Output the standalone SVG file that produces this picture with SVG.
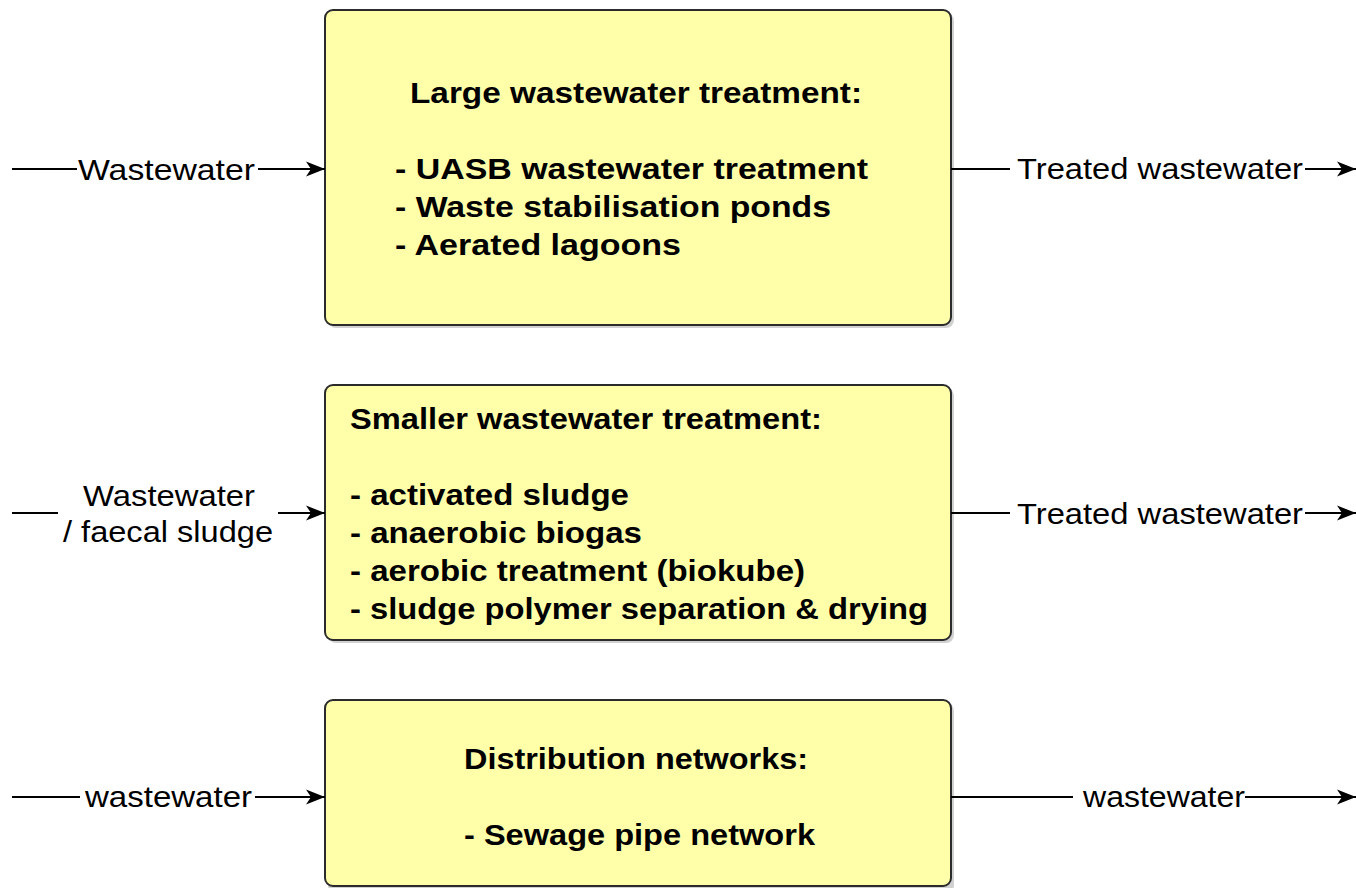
<svg xmlns="http://www.w3.org/2000/svg" width="1356" height="888" viewBox="0 0 1356 888">
  <style>
    .box { fill: #ffffaa; stroke: #2b2b2b; stroke-width: 2; }
    .shadow { fill: #000000; opacity: 0.18; }
    .title, .item { font-family: "Liberation Sans", Arial, sans-serif; font-size: 29px; font-weight: bold; fill: #000000; }
    .lbl { font-family: "Liberation Sans", Arial, sans-serif; font-size: 29px; fill: #000000; }
    .edge { stroke: #000000; stroke-width: 2; fill: none; }
  </style>
  <defs>
    <marker id="arrow" markerUnits="userSpaceOnUse" markerWidth="20" markerHeight="18" refX="19" refY="9" orient="auto">
      <path d="M0,1.5 L19,9 L0,16.5 L5,9 Z" fill="#000000"/>
    </marker>
  </defs>
  <rect width="1356" height="888" fill="#ffffff"/>

  <!-- Process boxes -->
  <g id="large-treatment">
    <rect class="shadow" x="328" y="13" width="626" height="315" rx="8"/>
    <rect class="box" x="325" y="10" width="626" height="315" rx="8"/>
    <text class="title" x="410" y="103" textLength="452" lengthAdjust="spacingAndGlyphs">Large wastewater treatment:</text>
    <text class="item" x="395" y="179" textLength="473" lengthAdjust="spacingAndGlyphs">- UASB wastewater treatment</text>
    <text class="item" x="395" y="217" textLength="436" lengthAdjust="spacingAndGlyphs">- Waste stabilisation ponds</text>
    <text class="item" x="395" y="255" textLength="286" lengthAdjust="spacingAndGlyphs">- Aerated lagoons</text>
  </g>

  <g id="small-treatment">
    <rect class="shadow" x="328" y="388" width="626" height="255" rx="8"/>
    <rect class="box" x="325" y="385" width="626" height="255" rx="8"/>
    <text class="title" x="350" y="429" textLength="472" lengthAdjust="spacingAndGlyphs">Smaller wastewater treatment:</text>
    <text class="item" x="350" y="505" textLength="279" lengthAdjust="spacingAndGlyphs">- activated sludge</text>
    <text class="item" x="350" y="543" textLength="292" lengthAdjust="spacingAndGlyphs">- anaerobic biogas</text>
    <text class="item" x="350" y="581" textLength="455" lengthAdjust="spacingAndGlyphs">- aerobic treatment (biokube)</text>
    <text class="item" x="350" y="619" textLength="578" lengthAdjust="spacingAndGlyphs">- sludge polymer separation &amp; drying</text>
  </g>

  <g id="distribution">
    <rect class="shadow" x="328" y="703" width="626" height="190" rx="8"/>
    <rect class="box" x="325" y="700" width="626" height="186" rx="8"/>
    <text class="title" x="464" y="769" textLength="344" lengthAdjust="spacingAndGlyphs">Distribution networks:</text>
    <text class="item" x="464" y="845" textLength="351" lengthAdjust="spacingAndGlyphs">- Sewage pipe network</text>
  </g>

  <!-- Flow connectors -->
  <g id="connectors">
    <line class="edge" x1="12" y1="169" x2="77" y2="169"/>
    <line class="edge" x1="258" y1="169" x2="325" y2="169" marker-end="url(#arrow)"/>
    <line class="edge" x1="951" y1="169" x2="1010" y2="169"/>
    <line class="edge" x1="1305" y1="169" x2="1356" y2="169" marker-end="url(#arrow)"/>

    <line class="edge" x1="12" y1="513" x2="58" y2="513"/>
    <line class="edge" x1="278" y1="513" x2="325" y2="513" marker-end="url(#arrow)"/>
    <line class="edge" x1="951" y1="513" x2="1010" y2="513"/>
    <line class="edge" x1="1305" y1="513" x2="1356" y2="513" marker-end="url(#arrow)"/>

    <line class="edge" x1="12" y1="797" x2="80" y2="797"/>
    <line class="edge" x1="255" y1="797" x2="325" y2="797" marker-end="url(#arrow)"/>
    <line class="edge" x1="951" y1="797" x2="1073" y2="797"/>
    <line class="edge" x1="1245" y1="797" x2="1356" y2="797" marker-end="url(#arrow)"/>
  </g>

  <!-- Connector labels -->
  <g id="labels">
    <text class="lbl" x="78" y="180" textLength="177" lengthAdjust="spacingAndGlyphs">Wastewater</text>
    <text class="lbl" x="1017" y="179" textLength="286" lengthAdjust="spacingAndGlyphs">Treated wastewater</text>
    <text class="lbl" x="83" y="506" textLength="172" lengthAdjust="spacingAndGlyphs">Wastewater</text>
    <text class="lbl" x="63" y="542" textLength="210" lengthAdjust="spacingAndGlyphs">/ faecal sludge</text>
    <text class="lbl" x="1017" y="524" textLength="286" lengthAdjust="spacingAndGlyphs">Treated wastewater</text>
    <text class="lbl" x="85" y="807" textLength="167" lengthAdjust="spacingAndGlyphs">wastewater</text>
    <text class="lbl" x="1083" y="807" textLength="162" lengthAdjust="spacingAndGlyphs">wastewater</text>
  </g>
</svg>
